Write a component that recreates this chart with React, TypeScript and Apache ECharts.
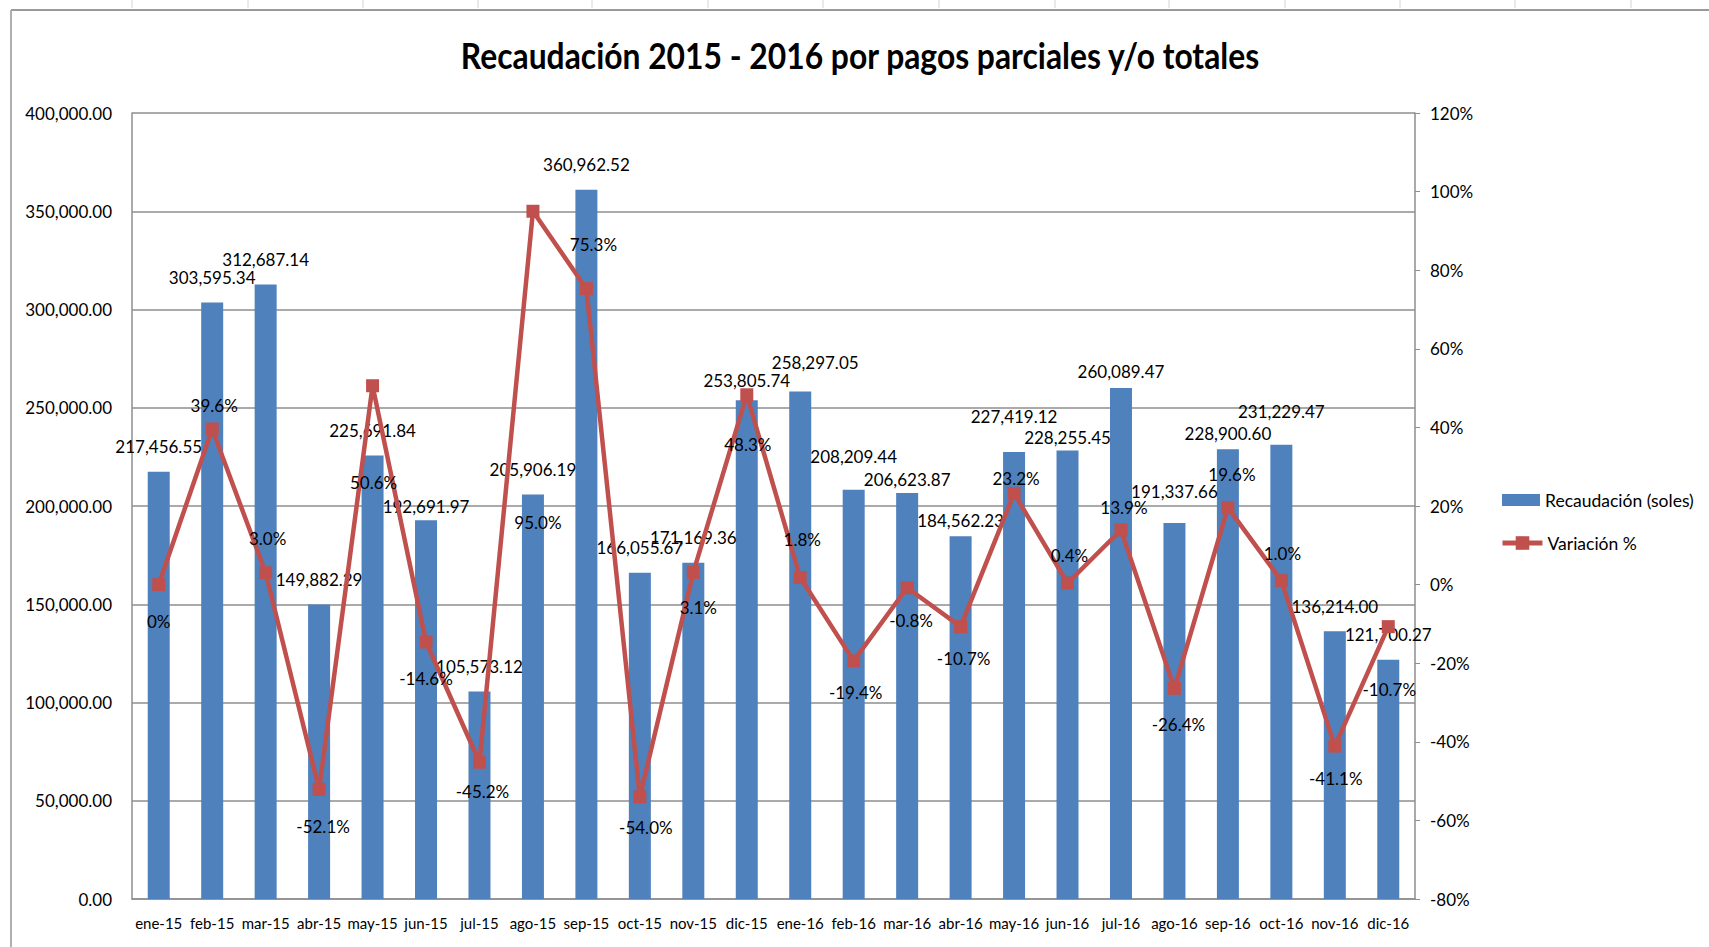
import React, { useEffect, useRef } from "react";
import * as echarts from "echarts";

const TITLE = "Recaudación 2015 - 2016 por pagos parciales y/o totales";
const SERIES_BAR = "Recaudación (soles)";
const SERIES_LINE = "Variación %";

const months = [
  "ene-15", "feb-15", "mar-15", "abr-15", "may-15", "jun-15", "jul-15", "ago-15",
  "sep-15", "oct-15", "nov-15", "dic-15", "ene-16", "feb-16", "mar-16", "abr-16",
  "may-16", "jun-16", "jul-16", "ago-16", "sep-16", "oct-16", "nov-16", "dic-16",
];

const recaudacion = [
  217456.55, 303595.34, 312687.14, 149882.29, 225691.84, 192691.97, 105573.12, 205906.19,
  360962.52, 166055.67, 171169.36, 253805.74, 258297.05, 208209.44, 206623.87, 184562.23,
  227419.12, 228255.45, 260089.47, 191337.66, 228900.6, 231229.47, 136214.0, 121700.27,
];

const variacion = [
  0, 39.6, 3.0, -52.1, 50.6, -14.6, -45.2, 95.0,
  75.3, -54.0, 3.1, 48.3, 1.8, -19.4, -0.8, -10.7,
  23.2, 0.4, 13.9, -26.4, 19.6, 1.0, -41.1, -10.7,
];

// label placement (layout only, px)
const barLabelDy = [0, 0, 0, 0, 0, 11, 0, 0, 0, 0, 0, 5, -4, -8, 12, 9, -11, 12, 9, -7, 9, -8, 0, 0];
const barLabelDx = [0, 0, 0, 0, 0, 0, 0, 0, 0, 0, 0, 0, 15, 0, 0, 0, 0, 0, 0, 0, 0, 0, 0, 0];
const varLabelDy = [37, -23, -34, 37, 97, 37, 29, 311, -44, 31, 35, 50, -38, 32, 33, 32, -15, -28, -22, 36, -33, -27, 32, 63];
const varLabelDx = [0, 2, 2, 4, 1, 0, 3, 5, 7, 6, 5, 1, 2, 2, 4, 3, 2, 2, 3, 4, 4, 1, 1, 1];

const FONT = "Lato, 'Open Sans', sans-serif";

function fmtMoney(v: number): string {
  const fixed = v.toFixed(2);
  const [ip, dp] = fixed.split(".");
  const withCommas = ip.replace(/\B(?=(\d{3})+(?!\d))/g, ",");
  return withCommas + "." + dp;
}

function fmtPct(v: number): string {
  return v === 0 ? "0%" : v.toFixed(1) + "%";
}

export default function App() {
  const ref = useRef<HTMLDivElement>(null);

  useEffect(() => {
    if (!ref.current) return;
    const chart = echarts.init(ref.current, null, { renderer: "svg" });

    const titleFont = "bold 36px Lato";
    let titleScale = 1;
    try {
      const ctx = document.createElement("canvas").getContext("2d");
      if (ctx) {
        ctx.font = titleFont;
        const w = ctx.measureText(TITLE).width;
        if (w > 0) titleScale = 800 / w;
      }
    } catch (e) {}

    const colTicks = [132, 248, 363, 478, 592, 708, 823, 939, 1055, 1169, 1285, 1400, 1515, 1631];

    const graphic: any[] = [
      {
        type: "text",
        x: 860,
        y: 55,
        scaleX: titleScale,
        style: {
          text: TITLE,
          font: titleFont,
          fill: "#000",
          align: "center",
          verticalAlign: "middle",
        },
      },
      {
        type: "line",
        shape: { x1: 11, y1: 10, x2: 1709, y2: 10 },
        style: { stroke: "#9a9a9a", lineWidth: 2 },
      },
      {
        type: "line",
        shape: { x1: 11, y1: 10, x2: 11, y2: 947 },
        style: { stroke: "#b0b0b0", lineWidth: 2 },
      },
      ...colTicks.map((x) => ({
        type: "line",
        shape: { x1: x, y1: 0, x2: x, y2: 8 },
        style: { stroke: "#d4d4d4", lineWidth: 1 },
      })),
    ];

    const option: any = {
      animation: false,
      backgroundColor: "#ffffff",
      textStyle: { fontFamily: FONT },
      grid: { left: 132, right: 294, top: 113, bottom: 48, containLabel: false },
      legend: [
        {
          orient: "vertical",
          left: 1497,
          top: 486,
          itemWidth: 38,
          itemHeight: 12,
          textStyle: { fontFamily: FONT, fontSize: 17.5, color: "#000" },
          data: [{ name: SERIES_BAR, icon: "rect" }],
        },
        {
          orient: "vertical",
          left: 1495,
          top: 529,
          itemWidth: 40,
          itemHeight: 17,
          lineStyle: { width: 5 },
          textStyle: { fontFamily: FONT, fontSize: 17.5, color: "#000" },
          data: [{ name: SERIES_LINE }],
        },
      ],
      xAxis: {
        type: "category",
        data: months,
        axisLine: { show: true, lineStyle: { color: "#8e8e8e", width: 1.5 } },
        axisTick: { show: false },
        axisLabel: { fontFamily: FONT, fontSize: 15, color: "#000", margin: 16, interval: 0 },
      },
      yAxis: [
        {
          type: "value",
          min: 0,
          max: 400000,
          interval: 50000,
          axisLine: { show: true, lineStyle: { color: "#8e8e8e", width: 1.5 } },
          axisTick: { show: false },
          splitLine: { show: true, lineStyle: { color: "#8e8e8e", width: 1.5 } },
          axisLabel: {
            fontFamily: FONT,
            fontSize: 17,
            color: "#000",
            margin: 20,
            formatter: (v: number) => fmtMoney(v),
          },
        },
        {
          type: "value",
          min: -80,
          max: 120,
          interval: 20,
          position: "right",
          axisLine: { show: true, lineStyle: { color: "#8e8e8e", width: 1.5 } },
          axisTick: { show: true, length: 5, lineStyle: { color: "#8e8e8e" } },
          splitLine: { show: false },
          axisLabel: {
            fontFamily: FONT,
            fontSize: 17,
            color: "#000",
            margin: 15,
            formatter: (v: number) => v + "%",
          },
        },
      ],
      series: [
        {
          name: SERIES_BAR,
          type: "bar",
          yAxisIndex: 0,
          barWidth: 22,
          itemStyle: { color: "#4F81BD" },
          data: recaudacion.map((v, i) => ({
            value: v,
            label: { offset: [barLabelDx[i], barLabelDy[i]] },
          })),
          label: {
            show: true,
            position: "top",
            distance: 16,
            fontFamily: FONT,
            fontSize: 17,
            lineHeight: 18,
            color: "#000",
            formatter: (p: any) => fmtMoney(p.value),
          },
          z: 2,
        },
        {
          name: SERIES_LINE,
          type: "line",
          yAxisIndex: 1,
          symbol: "rect",
          symbolSize: 13,
          lineStyle: { color: "#C0504D", width: 4.5 },
          itemStyle: { color: "#C0504D" },
          data: variacion.map((v, i) => ({
            value: v,
            label: { offset: [varLabelDx[i], varLabelDy[i]] },
          })),
          label: {
            show: true,
            position: "inside",
            fontFamily: FONT,
            fontSize: 17,
            lineHeight: 18,
            color: "#000",
            formatter: (p: any) => fmtPct(p.value),
          },
          z: 3,
        },
      ],
      graphic,
    };

    chart.setOption(option);
    return () => chart.dispose();
  }, []);

  return (
    <div
      ref={ref}
      style={{ position: "fixed", left: 0, top: 0, width: 1709, height: 947, background: "#fff" }}
    />
  );
}
